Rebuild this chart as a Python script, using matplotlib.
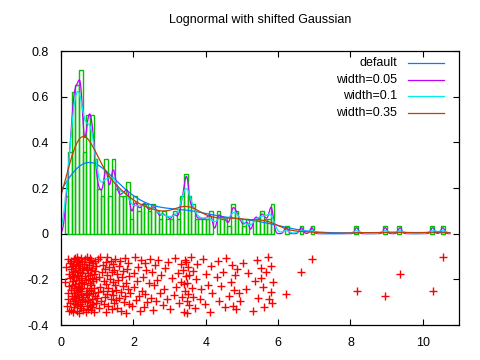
import numpy as np
import matplotlib
matplotlib.use('Agg')
import matplotlib.pyplot as plt

plt.rcParams['font.family'] = ['Liberation Sans', 'DejaVu Sans']
plt.rcParams['font.size'] = 9

# sample values (x)
x_pts = [
    0.11, 0.13, 0.16, 0.18, 0.19, 0.20, 0.21, 0.22, 0.23, 0.24,
    0.25, 0.26, 0.27, 0.27, 0.28, 0.29, 0.30, 0.30, 0.31, 0.31,
    0.32, 0.33, 0.33, 0.34, 0.34, 0.35, 0.35, 0.36, 0.36, 0.37,
    0.37, 0.38, 0.38, 0.39, 0.39, 0.40, 0.40, 0.41, 0.41, 0.42,
    0.42, 0.43, 0.43, 0.44, 0.44, 0.45, 0.45, 0.46, 0.46, 0.47,
    0.47, 0.48, 0.48, 0.49, 0.49, 0.50, 0.50, 0.51, 0.51, 0.52,
    0.52, 0.53, 0.53, 0.53, 0.54, 0.54, 0.55, 0.55, 0.56, 0.56,
    0.57, 0.57, 0.57, 0.58, 0.58, 0.59, 0.59, 0.60, 0.61, 0.62,
    0.63, 0.64, 0.65, 0.66, 0.67, 0.68, 0.69, 0.69, 0.70, 0.71,
    0.71, 0.72, 0.73, 0.73, 0.74, 0.75, 0.75, 0.76, 0.77, 0.77,
    0.78, 0.78, 0.79, 0.79, 0.80, 0.80, 0.81, 0.82, 0.82, 0.83,
    0.84, 0.84, 0.85, 0.86, 0.86, 0.87, 0.88, 0.88, 0.89, 0.89,
    0.90, 0.91, 0.92, 0.93, 0.94, 0.95, 0.96, 0.97, 0.98, 0.99,
    1.01, 1.03, 1.05, 1.06, 1.08, 1.09, 1.11, 1.13, 1.15, 1.17,
    1.19, 1.20, 1.21, 1.22, 1.23, 1.24, 1.25, 1.26, 1.27, 1.28,
    1.29, 1.31, 1.33, 1.35, 1.37, 1.39, 1.40, 1.41, 1.42, 1.43,
    1.44, 1.45, 1.46, 1.47, 1.48, 1.49, 1.51, 1.52, 1.54, 1.56,
    1.57, 1.59, 1.61, 1.63, 1.65, 1.67, 1.69, 1.71, 1.72, 1.74,
    1.76, 1.78, 1.80, 1.81, 1.83, 1.84, 1.86, 1.87, 1.89, 1.92,
    1.97, 2.01, 2.03, 2.05, 2.07, 2.09, 2.12, 2.15, 2.18, 2.21,
    2.24, 2.26, 2.29, 2.31, 2.33, 2.36, 2.38, 2.42, 2.45, 2.48,
    2.51, 2.54, 2.56, 2.59, 2.62, 2.65, 2.68, 2.73, 2.77, 2.81,
    2.84, 2.88, 2.93, 2.96, 3.02, 3.07, 3.11, 3.14, 3.18, 3.23,
    3.27, 3.31, 3.33, 3.35, 3.37, 3.39, 3.41, 3.42, 3.44, 3.45,
    3.46, 3.47, 3.48, 3.49, 3.50, 3.51, 3.53, 3.55, 3.58, 3.62,
    3.64, 3.66, 3.69, 3.72, 3.77, 3.83, 3.86, 3.92, 3.97, 4.02,
    4.06, 4.11, 4.14, 4.17, 4.32, 4.35, 4.38, 4.43, 4.47, 4.52,
    4.56, 4.64, 4.71, 4.73, 4.75, 4.78, 4.81, 4.84, 4.87, 4.92,
    4.96, 5.04, 5.12, 5.17, 5.32, 5.36, 5.41, 5.44, 5.52, 5.54,
    5.57, 5.62, 5.66, 5.72, 5.76, 5.80, 5.81, 5.83, 5.85, 6.22,
    6.64, 6.93, 8.17, 8.96, 9.37, 10.27, 10.55,
]
# vertical position of each point below the axis (in thousandths, negative)
y_pts = [
    213, 147, 318, 262, 109, 285, 176, 231, 340, 128,
    195, 302, 154, 247, 118, 333, 271, 186, 225, 142,
    296, 167, 208, 345, 132, 259, 113, 281, 190, 237,
    322, 151, 274, 105, 219, 306, 163, 248, 137, 289,
    201, 126, 313, 179, 255, 102, 338, 234, 158, 267,
    116, 291, 184, 229, 347, 141, 276, 204, 122, 315,
    170, 243, 309, 135, 266, 192, 107, 327, 218, 253,
    149, 284, 120, 238, 171, 300, 211, 336, 160, 279,
    131, 222, 294, 187, 110, 261, 343, 145, 205, 270,
    317, 156, 240, 103, 289, 198, 329, 174, 251, 124,
    263, 139, 311, 215, 182, 106, 298, 245, 161, 334,
    227, 114, 287, 193, 320, 152, 258, 130, 307, 209,
    178, 341, 236, 119, 272, 165, 303, 199, 143, 281,
    112, 257, 324, 188, 232, 104, 295, 166, 249, 136,
    310, 207, 153, 277, 126, 344, 220, 182, 264, 101,
    239, 316, 148, 197, 286, 121, 253, 331, 169, 212,
    134, 268, 305, 159, 224, 111, 290, 246, 175, 327,
    202, 140, 283, 118, 256, 337, 191, 230, 162, 299,
    108, 271, 214, 346, 155, 242, 127, 308, 185, 260,
    318, 173, 233, 102, 292, 206, 144, 275, 339, 117,
    250, 189, 321, 129, 265, 157, 301, 216, 109, 282,
    168, 335, 226, 138, 297, 203, 115, 260, 181, 313,
    243, 150, 288, 123, 328, 194, 269, 105, 235, 172,
    304, 210, 133, 276, 161, 342, 221, 116, 252, 186,
    125, 293, 217, 347, 146, 265, 180, 312, 102, 238,
    278, 164, 325, 200, 131, 286, 244, 113, 307, 177,
    223, 341, 142, 258, 190, 119, 296, 228, 166, 323,
    106, 273, 211, 137, 315, 248, 183, 330, 154, 262,
    295, 128, 241, 173, 337, 208, 114, 280, 196, 149,
    232, 319, 167, 104, 284, 255, 140, 303, 213, 264,
    167, 109, 249, 275, 177, 249, 100,
]

bin_width = 0.1
bandwidths = [None, 0.05, 0.1, 0.35]
kde_labels = ['default', 'width=0.05', 'width=0.1', 'width=0.35']
kde_colors = ['#0080ff', '#c000ff', '#00eeee', '#c04000']

x = np.array(x_pts)
y = -np.array(y_pts) / 1000.0
N = len(x)

# histogram, normalised like smooth freq with 1/(bin_width*N)
edges = np.round(np.arange(0, 11.0 + bin_width / 2, bin_width), 1)
counts, _ = np.histogram(x, bins=edges)
centers = edges[:-1] + bin_width / 2
keep = counts > 0
heights = counts / (bin_width * N)


def kdensity(xs, data, h):
    d = (xs[:, None] - data[None, :]) / h
    return np.exp(-0.5 * d**2).sum(axis=1) / (len(data) * h * np.sqrt(2 * np.pi))


sigma = np.std(x)
default_bw = sigma * (4.0 / (3.0 * N)) ** 0.2
xs = np.linspace(0, 10.75, 600)

fig = plt.figure(figsize=(4.8, 3.6), dpi=100)
ax = fig.add_axes([61 / 480, 1 - 325 / 360, 398 / 480, 274 / 360])

ax.plot(x, y, '+', color='#ff0000', ms=6, mew=1.0)
ax.bar(centers[keep], heights[keep], width=bin_width, fill=False,
       edgecolor='#00c000', linewidth=1.0)
for bw, lab, col in zip(bandwidths, kde_labels, kde_colors):
    h = default_bw if bw is None else bw
    ax.plot(xs, kdensity(xs, x, h), '-', color=col, lw=0.9)

ax.set_xlim(0, 11)
ax.set_ylim(-0.4, 0.8)
ax.set_xticks([0, 2, 4, 6, 8, 10])
ax.set_yticks([-0.4, -0.2, 0, 0.2, 0.4, 0.6, 0.8])
ax.set_yticklabels(['-0.4', '-0.2', '0', '0.2', '0.4', '0.6', '0.8'])
ax.tick_params(direction='in', length=4, width=0.8, top=True, right=True,
               labelsize=9)
ax.tick_params(axis='y', pad=9)
ax.tick_params(axis='x', pad=9)
for s in ax.spines.values():
    s.set_linewidth(0.9)

# legend, gnuplot style: text right-aligned, sample line after it
for i, (lab, col) in enumerate(zip(kde_labels, kde_colors)):
    yy = 0.956 - i * 0.061
    ax.text(0.844, yy, lab, ha='right', va='center', transform=ax.transAxes,
            fontsize=9)
    ax.plot([0.872, 0.962], [yy, yy], color=col, lw=0.9,
            transform=ax.transAxes)

fig.text(260 / 480, 1 - 20 / 360, 'Lognormal with shifted Gaussian',
         ha='center', va='center', fontsize=9)

fig.savefig('out.png', dpi=100)
